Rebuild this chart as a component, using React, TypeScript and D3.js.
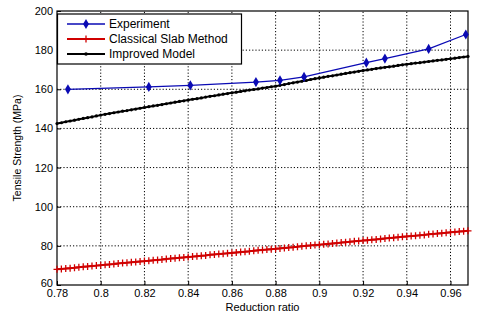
import React, { useEffect, useRef } from 'react';
import * as d3 from 'd3';

// Experiment points
const expX = [0.785, 0.822, 0.841, 0.871, 0.882, 0.893, 0.9215, 0.93, 0.95, 0.967];
const expY = [160, 161.2, 162, 163.7, 164.6, 166.3, 173.6, 175.7, 180.6, 188];

// model curves, sampled every 0.002 from 0.78 to 0.968
const modelX = d3.range(95).map(i => +(0.78 + i * 0.002).toFixed(3));
const slabY = [
  68.0, 68.2, 68.4, 68.6, 68.8, 69.1, 69.3, 69.5, 69.7, 69.9,
  70.1, 70.3, 70.5, 70.7, 71.0, 71.2, 71.4, 71.6, 71.8, 72.0,
  72.2, 72.4, 72.6, 72.8, 73.0, 73.3, 73.5, 73.7, 73.9, 74.1,
  74.3, 74.5, 74.7, 74.9, 75.1, 75.4, 75.6, 75.8, 76.0, 76.2,
  76.4, 76.6, 76.8, 77.0, 77.2, 77.5, 77.7, 77.9, 78.1, 78.3,
  78.5, 78.7, 78.9, 79.1, 79.3, 79.6, 79.8, 80.0, 80.2, 80.4,
  80.6, 80.8, 81.0, 81.2, 81.4, 81.7, 81.9, 82.1, 82.3, 82.5,
  82.7, 82.9, 83.1, 83.3, 83.5, 83.8, 84.0, 84.2, 84.4, 84.6,
  84.8, 85.0, 85.2, 85.4, 85.6, 85.9, 86.1, 86.3, 86.5, 86.7,
  86.9, 87.1, 87.3, 87.5, 87.7
];
const improvedY = [
  142.5, 142.9, 143.4, 143.8, 144.2, 144.7, 145.1, 145.5, 145.9, 146.4,
  146.8, 147.2, 147.6, 148.0, 148.4, 148.8, 149.1, 149.5, 149.9, 150.3,
  150.7, 151.1, 151.5, 151.8, 152.2, 152.6, 153.0, 153.4, 153.8, 154.1,
  154.5, 154.9, 155.2, 155.6, 156.0, 156.4, 156.7, 157.1, 157.5, 157.8,
  158.2, 158.5, 158.9, 159.2, 159.6, 159.9, 160.2, 160.6, 160.9, 161.3,
  161.6, 162.0, 162.4, 162.9, 163.3, 163.7, 164.1, 164.5, 165.0, 165.4,
  165.8, 166.2, 166.6, 166.9, 167.3, 167.7, 168.1, 168.5, 168.8, 169.2,
  169.6, 169.9, 170.2, 170.6, 170.9, 171.2, 171.5, 171.8, 172.2, 172.5,
  172.8, 173.1, 173.4, 173.6, 173.9, 174.2, 174.5, 174.8, 175.0, 175.3,
  175.6, 175.9, 176.2, 176.5, 176.8
];

const xTicks = [0.78, 0.8, 0.82, 0.84, 0.86, 0.88, 0.9, 0.92, 0.94, 0.96];
const yTicks = [60, 80, 100, 120, 140, 160, 180, 200];
const legendNames = ['Experiment', 'Classical Slab Method', 'Improved Model'];

const W = 480;
const H = 315;
const FONT = '"Liberation Sans", Arial, sans-serif';
const BLUE = '#0a0ab4';
const RED = '#d00000';

const App = () => {
  const ref = useRef<SVGSVGElement>(null);

  useEffect(() => {
    const svg = d3.select(ref.current);
    svg.selectAll('*').remove();

    const x = d3.scaleLinear().domain([0.78, 0.968]).range([57, 468]);
    const y = d3.scaleLinear().domain([60, 200]).range([285, 11]);
    const [x0, x1] = x.range();
    const [y0, y1] = y.range();

    // dotted grid
    const grid = svg.append('g')
      .attr('stroke', '#000')
      .attr('stroke-width', 1)
      .attr('stroke-dasharray', '1.2,2');
    xTicks.slice(1).forEach(t => {
      grid.append('line')
        .attr('x1', x(t)).attr('x2', x(t))
        .attr('y1', y0).attr('y2', y1);
    });
    yTicks.slice(1, -1).forEach(t => {
      grid.append('line')
        .attr('x1', x0).attr('x2', x1)
        .attr('y1', y(t)).attr('y2', y(t));
    });

    // axes (ticks inside, matlab style)
    const axB = svg.append('g').attr('transform', `translate(0,${y0})`)
      .call(d3.axisBottom(x).tickValues(xTicks).tickSizeInner(-4).tickSizeOuter(0)
        .tickFormat(d => d3.format('')(+(+d).toFixed(2))));
    const axL = svg.append('g').attr('transform', `translate(${x0},0)`)
      .call(d3.axisLeft(y).tickValues(yTicks).tickSizeInner(-4).tickSizeOuter(0));
    [axB, axL].forEach(ax => {
      ax.select('.domain').remove();
      ax.selectAll('text')
        .attr('font-family', FONT)
        .attr('font-size', 11)
        .attr('fill', '#000');
    });
    axB.selectAll('text').attr('dy', '0.71em').attr('y', 4);
    axL.selectAll('text').attr('x', -4);
    // the lowest y label sits a little higher so it clears "0.78"
    axL.selectAll<SVGTextElement, number>('text')
      .filter(d => d === yTicks[0])
      .attr('dy', '0.1em');

    // frame
    svg.append('rect')
      .attr('x', x0).attr('y', y1)
      .attr('width', x1 - x0).attr('height', y0 - y1)
      .attr('fill', 'none').attr('stroke', '#000').attr('stroke-width', 1.2);

    const plot = svg.append('g');
    const line = d3.line<[number, number]>().x(d => x(d[0])).y(d => y(d[1]));

    const slab: [number, number][] = modelX.map((v, i) => [v, slabY[i]]);
    const improved: [number, number][] = modelX.map((v, i) => [v, improvedY[i]]);
    const exp: [number, number][] = expX.map((v, i) => [v, expY[i]]);

    // classical slab method
    plot.append('path').datum(slab)
      .attr('d', line).attr('fill', 'none')
      .attr('stroke', RED).attr('stroke-width', 2);
    plot.append('path')
      .attr('d', slab.map(d => `M${x(d[0]) - 3.5},${y(d[1])}h7M${x(d[0])},${y(d[1]) - 3.5}v7`).join(''))
      .attr('stroke', RED).attr('stroke-width', 1.3).attr('fill', 'none');

    // improved model
    plot.append('path').datum(improved)
      .attr('d', line).attr('fill', 'none')
      .attr('stroke', '#000').attr('stroke-width', 2);
    plot.selectAll('circle.imp').data(improved).enter()
      .append('circle').attr('class', 'imp')
      .attr('cx', d => x(d[0])).attr('cy', d => y(d[1]))
      .attr('r', 1.6).attr('fill', '#000');

    // experiment
    plot.append('path').datum(exp)
      .attr('d', line).attr('fill', 'none')
      .attr('stroke', BLUE).attr('stroke-width', 1.3);
    const diamond = d3.symbol().type(d3.symbolDiamond).size(30);
    plot.selectAll('path.exp').data(exp).enter()
      .append('path').attr('class', 'exp')
      .attr('d', diamond)
      .attr('transform', d => `translate(${x(d[0])},${y(d[1])})`)
      .attr('fill', BLUE);

    // legend
    const lg = svg.append('g');
    lg.append('rect')
      .attr('x', 57.5).attr('y', 14)
      .attr('width', 184).attr('height', 50)
      .attr('fill', '#fff').attr('stroke', '#000').attr('stroke-width', 1.2);
    legendNames.forEach((name, i) => {
      const cy = 24 + i * 15;
      const colour = i === 0 ? BLUE : i === 1 ? RED : '#000';
      lg.append('line')
        .attr('x1', 67).attr('x2', 105).attr('y1', cy).attr('y2', cy)
        .attr('stroke', colour).attr('stroke-width', i === 0 ? 1.5 : 2);
      if (i === 0) {
        lg.append('path').attr('d', diamond)
          .attr('transform', `translate(86,${cy})`).attr('fill', BLUE);
      } else if (i === 1) {
        lg.append('path').attr('d', `M82.5,${cy}h7M86,${cy - 3.5}v7`)
          .attr('stroke', RED).attr('stroke-width', 1.3);
      } else {
        lg.append('circle').attr('cx', 86).attr('cy', cy).attr('r', 1.8).attr('fill', '#000');
      }
      lg.append('text')
        .attr('x', 109).attr('y', cy).attr('dy', '0.35em')
        .attr('font-family', FONT).attr('font-size', 12)
        .attr('fill', '#000')
        .text(name);
    });

    // axis titles
    svg.append('text')
      .attr('x', (x0 + x1) / 2).attr('y', 311)
      .attr('text-anchor', 'middle')
      .attr('font-family', FONT).attr('font-size', 11)
      .text('Reduction ratio');
    svg.append('text')
      .attr('transform', 'translate(21,148) rotate(-90)')
      .attr('text-anchor', 'middle')
      .attr('font-family', FONT).attr('font-size', 10.5)
      .text('Tensile Strength  (MPa)');
  }, []);

  return (
    <svg
      ref={ref}
      width={W}
      height={H}
      style={{ position: 'absolute', left: 0, top: 0, background: '#fff' }}
    />
  );
};

export default App;
